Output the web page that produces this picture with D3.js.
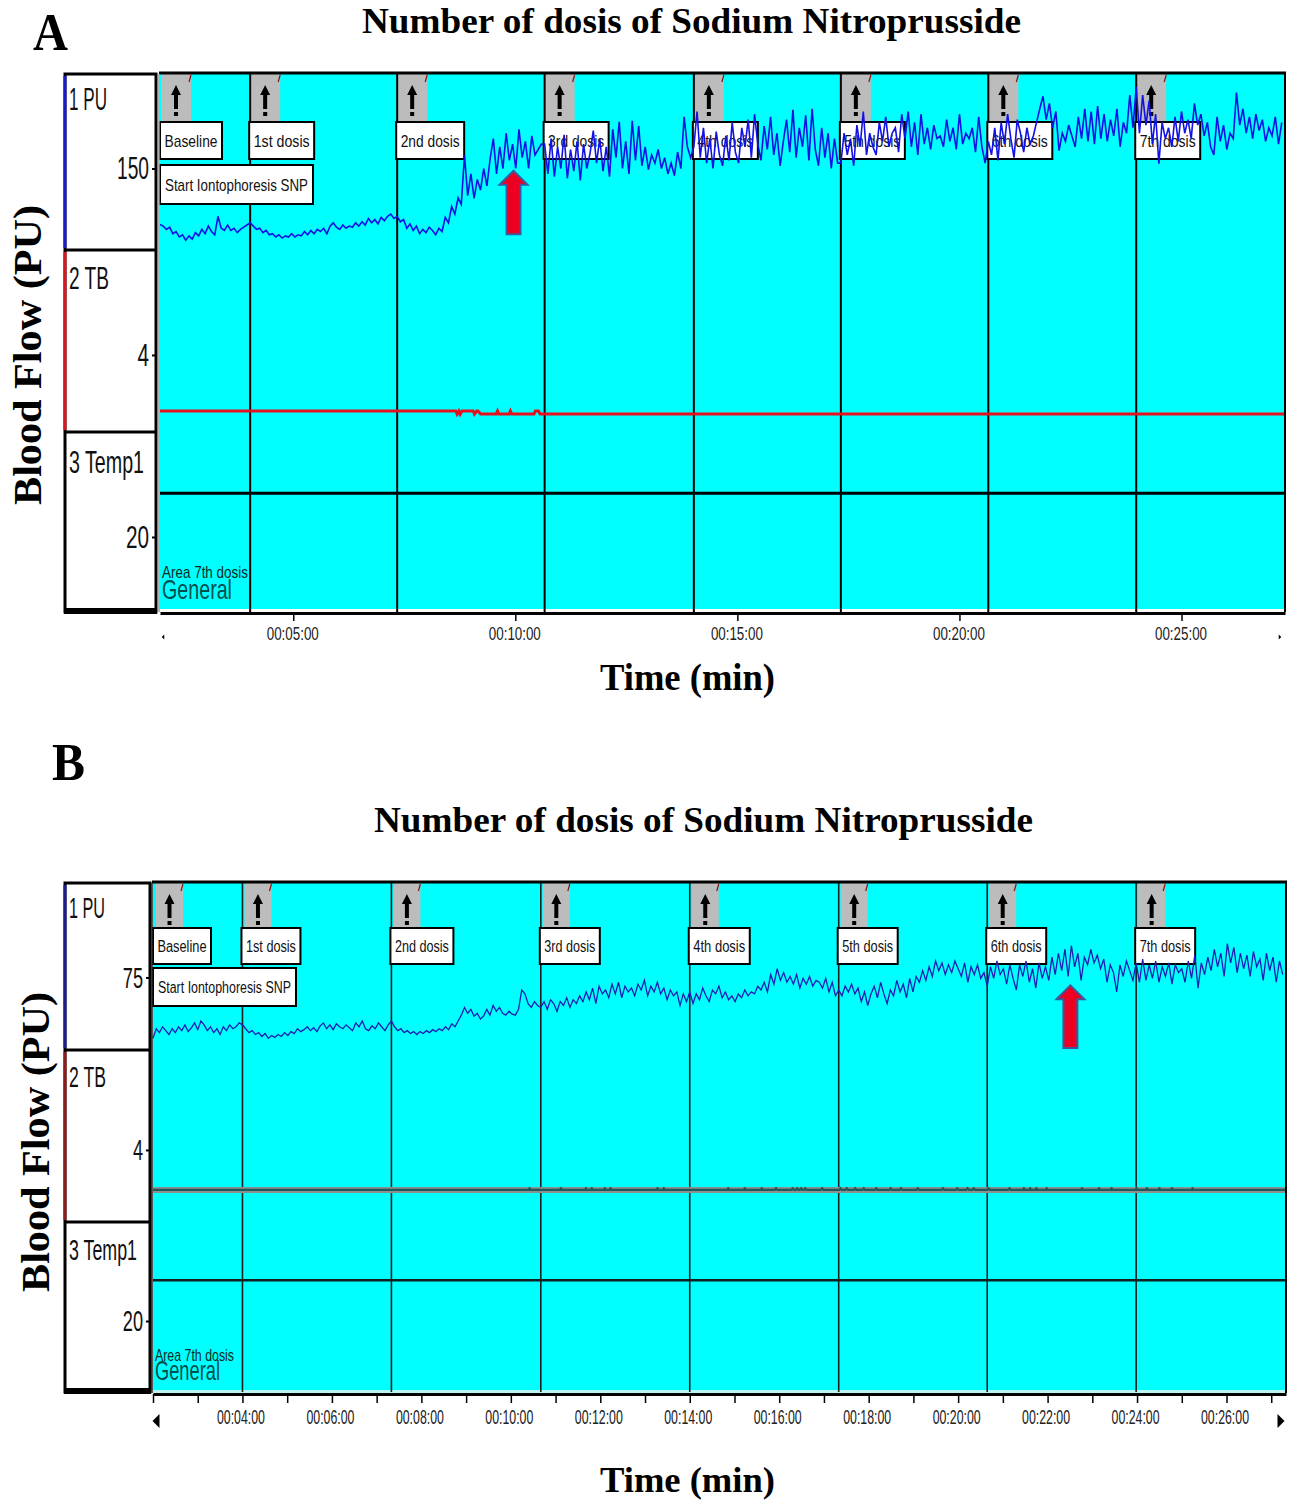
<!DOCTYPE html>
<html>
<head>
<meta charset="utf-8">
<title>Number of dosis of Sodium Nitroprusside</title>
<script src="https://cdn.jsdelivr.net/npm/d3@7/dist/d3.min.js"></script>
<style>
  html, body { margin: 0; padding: 0; background: #fff; }
  svg { display: block; }
  text { font-family: "Liberation Sans", Arial, sans-serif; fill: #111; }
  .serif { font-family: "Liberation Serif", "Times New Roman", serif; font-weight: bold; fill: #000; }
</style>
</head>
<body>
<div id="chart"></div>
<script>
// Event marks, in minutes from the start of the recording
var event_times_a = [2, 4.03, 7.34, 10.66, 14.02, 17.33, 20.65, 23.98];
var event_times_b = [2, 4, 7.33, 10.67, 14, 17.33, 20.65, 23.98];
var event_labels = ["Baseline", "1st dosis", "2nd dosis", "3rd dosis", "4th dosis", "5th dosis", "6th dosis", "7th dosis"];
var time_domain = [2, 27.33];

// Panel A: PU trace, one list per interval between events
var pu_a_0 = [47,44,38,42,30,34,24,28,18,26,20,32,26,38,30,44,34,28,62,40,36,46,36,40,32,38,42,46];
var pu_a_1 = [50,44,38,40,32,36,28,30,24,28,22,26,24,30,24,28,26,34,28,36,30,38,34,40,30,44,50,42,38,46,40,44,42,50,44,52,46,58,50,56,48,60,54,62,66,58];
var pu_a_2 = [62,52,56,40,48,36,44,30,38,32,42,36,28,40,34,60,50,80,66,96,84,174,100,140,95,130,110,150,118,168,205,140,190,150,215,165,195,150,222,170,200,150,210,175,185,195];
var pu_a_3 = [195,140,205,135,190,150,212,132,185,145,200,128,195,150,178,220,160,205,145,190,135,222,170,236,150,200,140,238,165,228,155,190,148,175,160,185,150,170,140,160,137,180,150,245,190,170];
var pu_a_4 = [190,255,170,225,160,205,150,218,175,155,210,165,235,180,160,225,190,240,170,250,195,165,228,185,245,175,215,155,200,240,180,258,170,225,190,248,165,260,185,155,225,170,215,150,205,160];
var pu_a_5 = [160,215,175,205,155,230,190,255,175,215,190,175,235,200,245,190,215,225,180,250,205,255,190,235,175,250,195,225,185,230,205,210,190,240,200,225,185,250,195,215,205,225,180,245,190,160];
var pu_a_6 = [200,175,225,165,235,195,250,205,170,240,215,180,225,195,210,235,260,283,240,270,225,255,183,215,200,230,210,190,245,205,260,200,255,195,265,205,250,200,240,210,260,190,235,215,285,225];
var pu_a_7 = [300,215,285,230,275,195,250,159,235,205,225,190,245,200,255,215,240,205,270,230,250,210,235,190,175,245,200,230,185,215,205,290,230,260,215,245,205,250,220,240,200,225,210,245,195,235];

// Panel A: TB trace (time, value) and temperature
var tb_a_times = [2,8.66,8.69,8.73,8.76,8.80,9.05,9.08,9.13,9.16,9.22,9.57,9.60,9.63,9.86,9.89,9.92,10.42,10.45,10.52,10.56,27.33];
var tb_a_values = [1.09,1.09,0.93,1.09,0.93,1.09,1.09,0.93,1.09,1.09,0.93,0.93,1.09,0.93,0.93,1.09,0.93,0.93,1.09,1.09,0.93,0.93];
var temp_a = [31.7, 31.7];

// Panel B: PU trace
var pu_b_0 = [12,22,18,24,20,16,22,18,24,20,26,19,23,28,21,30,26,20,24,18,22,16,24,20,26,22,24,28];
var pu_b_1 = [26,22,18,20,16,18,14,17,12,15,13,16,14,18,15,19,17,22,19,21,24,20,23,19,25,28,22,26,21,27,24,22,26,23,20,28,24,30,22,20,25,22,28,24,20,26];
var pu_b_2 = [30,24,20,22,18,20,17,19,16,19,17,20,18,21,19,22,20,24,21,27,24,30,36,44,38,42,35,38,32,35,42,36,46,40,44,38,36,40,37,36,42,62,58,48,44,50,46];
var pu_b_3 = [44,50,42,52,48,40,50,46,54,44,52,48,56,50,60,52,64,48,66,58,62,54,68,58,70,54,66,60,64,56,68,62,72,56,66,60,70,58,64,52,62,56,60,46,58,50];
var pu_b_4 = [60,48,58,52,64,56,50,62,58,66,54,60,52,56,50,58,54,62,56,60,58,66,62,70,60,78,68,84,72,80,70,76,68,78,64,74,68,76,66,72,70,64,74,60,70,56];
var pu_b_5 = [62,56,66,60,68,58,64,50,60,46,58,66,54,70,58,48,62,56,72,60,68,54,74,60,76,70,82,72,86,76,92,82,90,78,88,80,92,84,76,90,70,86,78,88,74,80];
var pu_b_6 = [66,86,74,92,78,84,68,88,74,62,88,76,92,70,84,64,90,74,86,72,96,78,100,82,104,76,108,86,100,72,96,88,104,90,98,84,94,70,88,80,60,88,76,92,82,72];
var pu_b_7 = [90,70,94,72,88,74,92,70,86,76,90,68,88,80,84,70,92,74,98,64,90,78,96,82,104,86,100,76,110,90,106,80,100,84,98,76,102,86,94,72,100,82,96,70,92,78];

// Panel B: TB sits at a flat value with short flickers at these minutes
var tb_b_level = 1.78;
var tb_b_flicker = 1.87;
var tb_b_flickers = [10.42,11.12,11.68,11.81,12.10,12.23,13.28,13.42,14.86,15.23,15.61,15.93,16.30,16.40,16.49,16.58,16.96,17.37,17.51,17.70,17.89,18.17,18.49,18.72,19.10,19.66,19.98,20.21,20.35,20.68,21.15,21.47,21.61,21.75,21.98,22.77,23.15,23.43,23.99,24.22,24.50,24.78,25.24];
var temp_b = [31.5, 31.5];

// Tick labels
var ticks_a = [5, 10, 15, 20, 25];
var tick_labels_a = ["00:05:00", "00:10:00", "00:15:00", "00:20:00", "00:25:00"];
var ticks_b = [2,3,4,5,6,7,8,9,10,11,12,13,14,15,16,17,18,19,20,21,22,23,24,25,26,27];
var tick_labels_b = ["", "", "00:04:00", "", "00:06:00", "", "00:08:00", "", "00:10:00", "", "00:12:00", "", "00:14:00", "", "00:16:00", "", "00:18:00", "", "00:20:00", "", "00:22:00", "", "00:24:00", "", "00:26:00", ""];

var svg = d3.select("#chart").append("svg")
    .attr("width", 1293)
    .attr("height", 1500);

var panel_a = {
  side: {left: 65, right: 156},
  plot: {left: 160, right: 1285, top: 74, bottom: 612, cyan_bottom: 609},
  bands: [74, 250, 432, 612],
  pu_domain: [0, 324], tb_domain: [0, 9.45], temp_domain: [0, 48],
  events: event_times_a,
  pu_tick: 150, pu_series: [pu_a_0, pu_a_1, pu_a_2, pu_a_3, pu_a_4, pu_a_5, pu_a_6, pu_a_7],
  tb_points: tb_a_times.map(function(t, i) { return [t, tb_a_values[i]]; }),
  temp: temp_a, temp_width: 3,
  pu_color: "#1212e4", pu_width: 1.6, line_width: 2, line_color: "#000",
  tb_color: "#e4121e", tb_width: 3, tb_band: null,
  strip_colors: ["#1a1ac8", "#d81820"], left_edge: "#999", strip_bottom: null,
  flag_width: 30, flag_bottom: 121, flag_dx: 0,
  box_top: 122, box_height: 37, box_dx: -1,
  box_widths: [62, 65, 68, 65, 65, 65, 65, 65],
  start_box: {top: 165, height: 39, width: 153},
  font: {name: 32, value: 32, box: 17, axis: 18},
  name_widths: [38, 40, 75], name_dy: [36, 39, 41], value_widths: 32,
  area_y: 578, general_y: 599, area_w: 86, general_w: 70,
  ticks: ticks_a, tick_labels: tick_labels_a, tick_size: 8, tick_label_w: 52, tick_pad: 6, tick_dx: -1,
  arrow: {time: 9.96, top: 146, bottom: 29},
  end_mark_y: 637, end_size: 2.5
};

var panel_b = {
  side: {left: 65, right: 150},
  plot: {left: 153, right: 1286, top: 883, bottom: 1393, cyan_bottom: 1390},
  bands: [883, 1050, 1222, 1392],
  pu_domain: [0, 172.6], tb_domain: [0, 9.55], temp_domain: [0, 47.9],
  events: event_times_b,
  pu_tick: 75, pu_series: [pu_b_0, pu_b_1, pu_b_2, pu_b_3, pu_b_4, pu_b_5, pu_b_6, pu_b_7],
  tb_points: [[2, tb_b_level]].concat(d3.merge(tb_b_flickers.map(function(t) {
    return [[t - 0.03, tb_b_level], [t, tb_b_flicker], [t + 0.03, tb_b_level]];
  }))).concat([[27.33, tb_b_level]]),
  temp: temp_b, temp_width: 2.6,
  pu_color: "#1e1eb4", pu_width: 1.3, line_width: 1.6, line_color: "#142020",
  tb_color: "#1f5a5a", tb_width: 2.2, tb_band: "#8a8f90",
  strip_colors: ["#1c1c8c", "#8c1c1c"], left_edge: "#222", strip_bottom: "#b8f4f4",
  flag_width: 27, flag_bottom: 927, flag_dx: 2,
  box_top: 928, box_height: 36, box_dx: -1,
  box_widths: [58, 59, 63, 60, 61, 60, 60, 60],
  start_box: {top: 968, height: 38, width: 143},
  font: {name: 30, value: 30, box: 16, axis: 20},
  name_widths: [36, 37, 68], name_dy: [35, 37, 38], value_widths: 28,
  area_y: 1361, general_y: 1380, area_w: 79, general_w: 65,
  ticks: ticks_b, tick_labels: tick_labels_b, tick_size: 9, tick_label_w: 48, tick_pad: 7, tick_dx: -2,
  arrow: {time: 22.51, top: 66.8, bottom: 2},
  end_mark_y: 1421, end_size: 7
};

draw_panel(panel_a);
draw_panel(panel_b);

function draw_panel(p) {
  var x_scale = d3.scaleLinear().domain(time_domain).range([p.plot.left, p.plot.right]);
  var y_pu = d3.scaleLinear().domain(p.pu_domain).range([p.bands[1], p.bands[0]]);
  var y_tb = d3.scaleLinear().domain(p.tb_domain).range([p.bands[2], p.bands[1]]);
  var y_temp = d3.scaleLinear().domain(p.temp_domain).range([p.bands[3], p.bands[2]]);

  // Plot background
  svg.append("rect")
      .attr("x", p.plot.left).attr("y", p.plot.top)
      .attr("width", p.plot.right - p.plot.left)
      .attr("height", p.plot.cyan_bottom - p.plot.top)
      .style("fill", "#00ffff");
  if (p.strip_bottom) {
    svg.append("rect")
        .attr("x", p.plot.left).attr("y", p.plot.cyan_bottom)
        .attr("width", p.plot.right - p.plot.left)
        .attr("height", p.plot.bottom - p.plot.cyan_bottom)
        .style("fill", p.strip_bottom);
  }

  // Left side channel boxes
  svg.append("rect")
      .attr("x", p.side.left).attr("y", p.bands[0])
      .attr("width", p.side.right - p.side.left)
      .attr("height", p.bands[3] - p.bands[0])
      .style("fill", "#fff").style("stroke", "#000").style("stroke-width", 3);
  svg.append("rect")
      .attr("x", p.side.left - 1).attr("y", p.bands[3] - 4)
      .attr("width", p.side.right - p.side.left + 2).attr("height", 6)
      .style("fill", "#000");
  [1, 2].forEach(function(k) {
    svg.append("line")
        .attr("x1", p.side.left).attr("x2", p.side.right)
        .attr("y1", p.bands[k]).attr("y2", p.bands[k])
        .style("stroke", "#000").style("stroke-width", 3);
  });
  // coloured strip on the side of PU and TB
  p.strip_colors.forEach(function(c, k) {
    svg.append("line")
        .attr("x1", p.side.left).attr("x2", p.side.left)
        .attr("y1", p.bands[k] + 2).attr("y2", p.bands[k + 1] - 2)
        .style("stroke", c).style("stroke-width", 3);
  });

  // Channel names
  ["1 PU", "2 TB", "3 Temp1"].forEach(function(name, k) {
    svg.append("text")
        .attr("x", p.side.left + 4)
        .attr("y", p.bands[k] + p.name_dy[k])
        .attr("textLength", p.name_widths[k])
        .attr("lengthAdjust", "spacingAndGlyphs")
        .style("font-size", p.font.name + "px")
        .text(name);
  });

  // Value ticks on the channel boxes
  [[y_pu, p.pu_tick], [y_tb, 4], [y_temp, 20]].forEach(function(c) {
    var g = svg.append("g")
        .attr("transform", "translate(" + (p.side.right - 1) + ",0)")
        .call(d3.axisLeft(c[0]).tickValues([c[1]]).tickSize(3).tickPadding(3));
    g.select(".domain").remove();
    g.selectAll("line").style("stroke", "#000").style("stroke-width", 2);
    g.selectAll("text")
        .style("font-size", p.font.value + "px")
        .attr("textLength", function() { return c[1] > 99 ? p.value_widths : c[1] > 9 ? p.value_widths * 0.72 : p.value_widths * 0.36; })
        .attr("lengthAdjust", "spacingAndGlyphs");
  });

  // Grey flags on top of each event
  p.events.forEach(function(t, k) {
    var fx = x_scale(t) + p.flag_dx;
    if (k === 0) fx = p.plot.left + 1 + p.flag_dx;
    var cx = fx + p.flag_width / 2;
    var top = p.plot.top;
    svg.append("rect")
        .attr("x", fx).attr("y", top)
        .attr("width", p.flag_width)
        .attr("height", p.flag_bottom - top)
        .style("fill", "#bcbcbc");
    // little black up arrow in the flag
    svg.append("path")
        .attr("d", d3.line()([[cx, top + 11], [cx + 5, top + 21], [cx + 2, top + 21], [cx + 2, top + 35], [cx - 2, top + 35], [cx - 2, top + 21], [cx - 5, top + 21]]) + "Z")
        .style("fill", "#000");
    svg.append("rect")
        .attr("x", cx - 2).attr("y", top + 38)
        .attr("width", 4).attr("height", 4)
        .style("fill", "#000");
    svg.append("line")
        .attr("x1", fx + p.flag_width).attr("x2", fx + p.flag_width - 2)
        .attr("y1", top + 1).attr("y2", top + 8)
        .style("stroke", "#8a1010").style("stroke-width", 1.2);
  });

  // Vertical event lines
  svg.selectAll(null)
      .data(p.events.slice(1))
    .enter().append("line")
      .attr("x1", function(d) { return x_scale(d); })
      .attr("x2", function(d) { return x_scale(d); })
      .attr("y1", p.plot.top)
      .attr("y2", p.bands[3])
      .style("stroke", p.line_color)
      .style("stroke-width", p.line_width);

  // Event label boxes
  event_labels.forEach(function(label, k) {
    var bx = (k === 0 ? p.plot.left : x_scale(p.events[k]) + p.box_dx);
    add_box(bx, p.box_top, p.box_widths[k], p.box_height, label, p.box_widths[k] - 9, p);
  });
  add_box(p.plot.left, p.start_box.top, p.start_box.width, p.start_box.height,
      "Start Iontophoresis SNP", p.start_box.width - 10, p);

  // Temperature and TB traces
  var plot_line = d3.line()
      .x(function(d) { return x_scale(d[0]); });

  svg.append("path")
      .datum(time_domain.map(function(t, i) { return [t, p.temp[i]]; }))
      .attr("d", plot_line.y(function(d) { return y_temp(d[1]); }))
      .style("fill", "none")
      .style("stroke", p.line_color)
      .style("stroke-width", p.temp_width);

  if (p.tb_band) {
    svg.append("path")
        .datum(time_domain.map(function(t) { return [t, tb_b_level]; }))
        .attr("d", plot_line.y(function(d) { return y_tb(d[1]); }))
        .style("fill", "none")
        .style("stroke", p.tb_band)
        .style("stroke-width", 6);
  }
  svg.append("path")
      .datum(p.tb_points)
      .attr("d", plot_line.y(function(d) { return y_tb(d[1]); }))
      .style("fill", "none")
      .style("stroke", p.tb_color)
      .style("stroke-width", p.tb_width);

  // PU trace, each list spreads over its interval between two events
  var edges = p.events.concat([time_domain[1]]);
  var pu_points = d3.merge(p.pu_series.map(function(list, k) {
    var s = d3.scaleLinear().domain([0, list.length]).range([edges[k], edges[k + 1]]);
    return list.map(function(v, i) { return [s(i), v]; });
  }));
  svg.append("path")
      .datum(pu_points)
      .attr("d", plot_line.y(function(d) { return y_pu(d[1]); }))
      .style("fill", "none")
      .style("stroke", p.pu_color)
      .style("stroke-width", p.pu_width);

  // Red arrow
  var ax = x_scale(p.arrow.time);
  var at = y_pu(p.arrow.top);
  var ab = y_pu(p.arrow.bottom);
  svg.append("path")
      .attr("d", d3.line()([[ax, at], [ax + 14, at + 14], [ax + 7, at + 14], [ax + 7, ab], [ax - 7, ab], [ax - 7, at + 14], [ax - 14, at + 14]]) + "Z")
      .style("fill", "#ee0022")
      .style("stroke", "#3a5a9c")
      .style("stroke-width", 2);

  // Area and General captions
  svg.append("text")
      .attr("x", p.plot.left + 2).attr("y", p.area_y)
      .attr("textLength", p.area_w).attr("lengthAdjust", "spacingAndGlyphs")
      .style("font-size", "17px").style("fill", "#062a22")
      .text("Area 7th dosis");
  svg.append("text")
      .attr("x", p.plot.left + 2).attr("y", p.general_y)
      .attr("textLength", p.general_w).attr("lengthAdjust", "spacingAndGlyphs")
      .style("font-size", "28px").style("fill", "#00504e")
      .text("General");

  // Plot frame
  svg.append("line").attr("x1", p.plot.left - 1).attr("x2", p.plot.right + 1)
      .attr("y1", p.plot.top - 1).attr("y2", p.plot.top - 1)
      .style("stroke", "#000").style("stroke-width", 3);
  svg.append("line").attr("x1", p.plot.right).attr("x2", p.plot.right)
      .attr("y1", p.plot.top).attr("y2", p.plot.bottom)
      .style("stroke", "#000").style("stroke-width", 2);
  svg.append("line").attr("x1", p.plot.left - 1).attr("x2", p.plot.left - 1)
      .attr("y1", p.plot.top).attr("y2", p.plot.bottom)
      .style("stroke", p.left_edge).style("stroke-width", 1.5);

  // Time axis
  var x_axis = d3.axisBottom(x_scale)
      .tickValues(p.ticks)
      .tickSize(p.tick_size)
      .tickSizeOuter(0)
      .tickPadding(p.tick_pad)
      .tickFormat(function(d, i) { return p.tick_labels[i]; });
  var g_axis = svg.append("g")
      .attr("transform", "translate(0," + (p.plot.bottom + 1) + ")")
      .call(x_axis);
  g_axis.select(".domain").style("stroke", "#000").style("stroke-width", 3);
  g_axis.selectAll("line").style("stroke", "#000").style("stroke-width", 1.5);
  g_axis.selectAll("text")
      .attr("dx", p.tick_dx)
      .style("font-size", p.font.axis + "px")
      .style("font-family", "'Liberation Sans', Arial, sans-serif")
      .style("fill", "#222")
      .filter(function() { return d3.select(this).text() !== ""; })
      .attr("textLength", p.tick_label_w)
      .attr("lengthAdjust", "spacingAndGlyphs");

  // Scroll marks at both ends of the time axis
  var ly = p.end_mark_y;
  var lx = p.plot.left + 3;
  var rx = p.plot.right - 5;
  var h = p.end_size;
  svg.append("path")
      .attr("d", d3.line()([[lx - h / 2, ly], [lx + h / 2, ly - h], [lx + h / 2, ly + h]]) + "Z")
      .style("fill", "#000");
  svg.append("path")
      .attr("d", d3.line()([[rx + h / 2, ly], [rx - h / 2, ly - h], [rx - h / 2, ly + h]]) + "Z")
      .style("fill", "#000");
}

function add_box(x, y, w, h, label, text_w, p) {
  svg.append("rect")
      .attr("x", x).attr("y", y)
      .attr("width", w).attr("height", h)
      .style("fill", "#fff").style("stroke", "#000").style("stroke-width", 2);
  svg.append("text")
      .attr("x", x + w / 2)
      .attr("y", y + h / 2 + p.font.box * 0.36)
      .attr("text-anchor", "middle")
      .attr("textLength", text_w)
      .attr("lengthAdjust", "spacingAndGlyphs")
      .style("font-size", p.font.box + "px")
      .text(label);
}

// Figure texts
function add_serif(x, y, size, width, label, rotate) {
  var t = svg.append("text")
      .attr("class", "serif")
      .style("font-size", size + "px")
      .attr("textLength", width)
      .attr("lengthAdjust", "spacingAndGlyphs")
      .text(label);
  if (rotate) {
    t.attr("text-anchor", "middle").attr("transform", "translate(" + x + "," + y + ") rotate(-90)");
  } else {
    t.attr("x", x).attr("y", y);
  }
}

add_serif(33, 50, 52, 35, "A");
add_serif(52, 780, 52, 33, "B");
add_serif(362, 33, 36, 659, "Number of dosis of Sodium Nitroprusside");
add_serif(374, 832, 36, 659, "Number of dosis of Sodium Nitroprusside");
add_serif(600, 690, 37, 175, "Time (min)");
add_serif(600, 1492, 35, 175, "Time (min)");
add_serif(41, 355, 41, 300, "Blood Flow (PU)", true);
add_serif(49, 1142, 41, 300, "Blood Flow (PU)", true);
</script>
</body>
</html>
